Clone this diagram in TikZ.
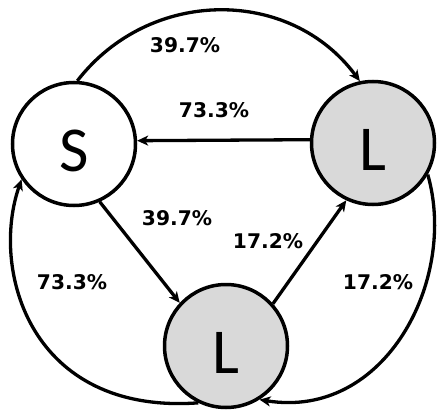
\documentclass[tikz,border=0pt]{standalone}
\usepackage{fontspec}
\setmainfont{Carlito}
\newfontfamily\labfont{DejaVu Sans}
\usetikzlibrary{arrows.meta}
\definecolor{nodegray}{RGB}{217,217,217}
\begin{document}
\begin{tikzpicture}[x=1pt,y=-1pt,
  state/.style={circle,draw,line width=3.5pt,minimum size=123pt,inner sep=0pt,
    font=\fontsize{64}{64}\selectfont,text height=55pt,text depth=0pt},
  filled/.style={state,fill=nodegray},
  conn/.style={line width=3.3pt,-{Stealth[length=11pt,width=10pt,inset=3pt]}},
  lab/.style={font=\labfont\bfseries\fontsize{20.2}{21}\selectfont,inner sep=0pt}]
\useasboundingbox (0,0) rectangle (440,415);
\node[state]  (S) at (74,144)  {S};
\node[filled] (R) at (373,143) {L};
\node[filled] (B) at (226,346) {L};
\draw[conn] (S.87) .. controls (150,-13) and (290,-13) .. (R.102);
\draw[conn] (R.177) -- (S.3);
\draw[conn] (S.-66) -- (B.137);
\draw[conn] (B.42) -- (R.-115);
\draw[conn] (B.-116) .. controls (30,415) and (-10,270) .. (S.214);
\draw[conn] (R.-30) .. controls (458,280) and (385,420) .. (B.-58);
\node[lab] (l1) at (185,45)  {39.7\%};
\node[lab] (l2) at (214,110) {73.3\%};
\node[lab] (l3) at (177,218) {39.7\%};
\node[lab] (l4) at (268,241) {17.2\%};
\node[lab] (l5) at (72,282)  {73.3\%};
\node[lab] (l6) at (378,282) {17.2\%};
\end{tikzpicture}
\end{document}
